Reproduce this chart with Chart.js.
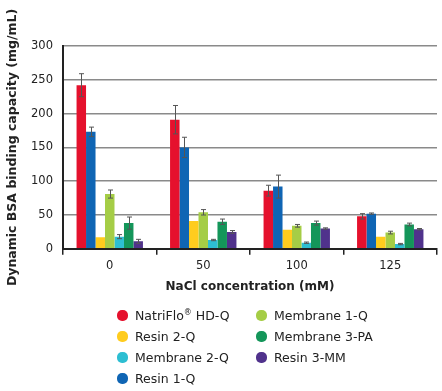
<!DOCTYPE html>
<html lang="en-US">
<head>
<meta charset="utf-8">
<title>BSA binding capacity</title>
<script src="https://cdn.jsdelivr.net/npm/chart.js@4.4.1/dist/chart.umd.min.js"></script>
<style>
    html, body { margin: 0; padding: 0; background: #fff; }
    #wrap { position: relative; width: 442px; height: 391px; }
    #legend {
        position: absolute; left: 117px; top: 305px;
        display: grid; grid-template-rows: repeat(4, 21px); grid-auto-flow: column;
        grid-template-columns: 139px 150px;
        font-family: "DejaVu Sans", sans-serif; font-size: 12.5px; color: #222;
    }
    #legend div { display: flex; align-items: center; white-space: nowrap; }
    #legend span.dot { width: 11px; height: 11px; border-radius: 5px; margin-right: 7px; display: inline-block; }
    #legend sup { font-size: 8px; vertical-align: 5px; line-height: 0; }
</style>
</head>
<body>
<div id="wrap">
    <canvas id="chart-0" width="442" height="391"></canvas>
    <div id="legend"></div>
</div>
<script>
    // NaCl concentration (mM)
    var categories = ['0', '50', '100', '125'];

    // series in bar order, values + error (+/-)
    var natriflo     = [242, 191, 86, 48];
    var natrifloErr  = [17, 21, 8, 4];
    var resin1q      = [173, 150, 92, 52];
    var resin1qErr   = [7, 15, 17, 1];
    var resin2q      = [17, 41, 28, 18];
    var resin2qErr   = [0, 0, 0, 0];
    var membrane1q   = [81, 54, 34, 24];
    var membrane1qErr = [6, 4, 2, 2];
    var membrane2q   = [18, 13, 9, 7];
    var membrane2qErr = [3, 1, 1, 1];
    var membrane3pa  = [38, 40, 38, 36];
    var membrane3paErr = [9, 4, 3, 2];
    var resin3mm     = [11, 25, 30, 29];
    var resin3mmErr  = [3, 2, 1, 1];

    var yTicks = [0, 50, 100, 150, 200, 250, 300];

    // legend is column-major in the original
    var legendOrder = ['NatriFlo® HD-Q', 'Resin 2-Q', 'Membrane 2-Q', 'Resin 1-Q',
                       'Membrane 1-Q', 'Membrane 3-PA', 'Resin 3-MM'];

    var font = '"DejaVu Sans", sans-serif';
    var ink = '#222';

    function ds(label, data, err, color) {
        return { label: label, data: data, err: err, backgroundColor: color, borderWidth: 0 };
    }

    var errorBars = {
        id: 'errorBars',
        afterDatasetsDraw: function (chart) {
            var ctx = chart.ctx;
            var y = chart.scales.y;
            ctx.save();
            ctx.strokeStyle = '#555';
            ctx.lineWidth = 1;
            chart.data.datasets.forEach(function (d, i) {
                var meta = chart.getDatasetMeta(i);
                meta.data.forEach(function (bar, j) {
                    var e = d.err[j];
                    if (!e) return;
                    var top = y.getPixelForValue(d.data[j] + e);
                    var bot = y.getPixelForValue(d.data[j] - e);
                    var x = Math.round(bar.x) + 0.5;
                    ctx.beginPath();
                    ctx.moveTo(x, top); ctx.lineTo(x, bot);
                    ctx.moveTo(x - 2.5, top); ctx.lineTo(x + 2.5, top);
                    ctx.moveTo(x - 2.5, bot); ctx.lineTo(x + 2.5, bot);
                    ctx.stroke();
                });
            });
            ctx.restore();
        }
    };

    var chart = new Chart('chart-0', {
        type: 'bar',
        data: {
            labels: categories,
            datasets: [
                ds('NatriFlo® HD-Q', natriflo, natrifloErr, '#E5112D'),
                ds('Resin 1-Q', resin1q, resin1qErr, '#0F65B4'),
                ds('Resin 2-Q', resin2q, resin2qErr, '#FFCC1E'),
                ds('Membrane 1-Q', membrane1q, membrane1qErr, '#A5CD46'),
                ds('Membrane 2-Q', membrane2q, membrane2qErr, '#2DBED2'),
                ds('Membrane 3-PA', membrane3pa, membrane3paErr, '#14965A'),
                ds('Resin 3-MM', resin3mm, resin3mmErr, '#50328C')
            ]
        },
        options: {
            responsive: false,
            animation: false,
            layout: { padding: { top: 46, right: 5, bottom: 93, left: 0 } },
            datasets: { bar: { categoryPercentage: 0.71, barPercentage: 1.0 } },
            plugins: { legend: { display: false }, tooltip: { enabled: false } },
            scales: {
                x: {
                    offset: true,
                    grid: { offset: true, drawOnChartArea: false, drawTicks: true, tickLength: 6, color: ink, lineWidth: 1.5 },
                    border: { color: ink, width: 2 },
                    ticks: { color: ink, font: { family: font, size: 11.5 }, padding: 4 },
                    title: { display: true, text: 'NaCl concentration (mM)', color: ink,
                             font: { family: font, size: 12, weight: 'bold' }, padding: { top: 3, bottom: 4 } }
                },
                y: {
                    min: 0, max: 300,
                    afterBuildTicks: function (s) { s.ticks = yTicks.map(function (v) { return { value: v }; }); },
                    afterFit: function (s) { s.width = 63; },
                    grid: { color: '#8a8a8a', lineWidth: 1.5, drawTicks: false },
                    border: { color: ink, width: 2 },
                    ticks: { color: ink, font: { family: font, size: 11.5 }, padding: 10 },
                    title: { display: true, text: 'Dynamic BSA binding capacity (mg/mL)', color: ink,
                             font: { family: font, size: 12.5, weight: 'bold' }, padding: { top: 5, bottom: 4 } }
                }
            }
        },
        plugins: [errorBars]
    });

    // html legend built from the datasets
    var legend = document.getElementById('legend');
    legendOrder.forEach(function (name) {
        var d = chart.data.datasets.find(function (x) { return x.label === name; });
        var item = document.createElement('div');
        var dot = document.createElement('span');
        dot.className = 'dot';
        dot.style.background = d.backgroundColor;
        item.appendChild(dot);
        var txt = document.createElement('span');
        txt.innerHTML = name.replace('®', '<sup>®</sup>');
        item.appendChild(txt);
        legend.appendChild(item);
    });
</script>
</body>
</html>
